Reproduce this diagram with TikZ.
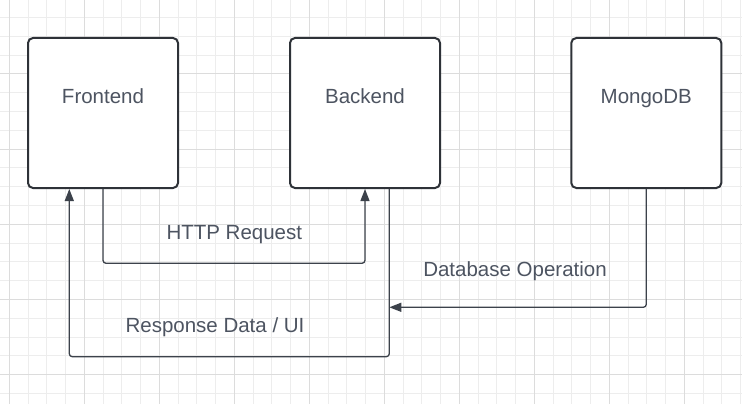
\documentclass[tikz,border=0pt]{standalone}
\usepackage{fontspec}
\setmainfont{Liberation Sans}
\usetikzlibrary{arrows.meta}
\definecolor{gridminor}{HTML}{EDEDED}
\definecolor{gridmajor}{HTML}{DCDCDC}
\definecolor{boxline}{HTML}{2E3238}
\definecolor{lineclr}{HTML}{3C424B}
\definecolor{txt}{HTML}{4D5461}
\tikzset{
  box/.style={draw=boxline, line width=2pt, rounded corners=5pt, fill=white,
    minimum width=150pt, minimum height=150pt, inner sep=0pt},
  conn/.style={draw=lineclr, line width=1.3pt, rounded corners=3pt,
    -{Triangle[length=12pt,width=9pt]}},
  lbl/.style={text=txt, font=\fontsize{20.5}{24}\selectfont, inner sep=0pt, anchor=base},
  gminor/.style={draw=gridminor, line width=1pt},
  gmajor/.style={draw=gridmajor, line width=1pt},
}
\begin{document}
\begin{tikzpicture}[x=1pt,y=-1pt]
\fill[white] (0,0) rectangle (742,404);
\useasboundingbox (0,0) rectangle (742,404);
% grid
\foreach \k in {0,...,39} { \draw[gminor] ({9.3+18.75*\k},0) -- ++(0,404); }
\foreach \k in {0,...,20} { \draw[gminor] (0,{17.5+18.8*\k}) -- ++(742,0); }
\foreach \m in {0,...,9} { \draw[gmajor] ({9.3+75*\m},0) -- ++(0,404); }
\foreach \m in {0,...,4} { \draw[gmajor] (0,{73.9+75.2*\m}) -- ++(742,0); }
% boxes
\node[box] (fe) at (103,113) {};
\node[box] (be) at (365,113) {};
\node[box] (db) at (646.3,113) {};
\node[lbl] (fet) at (103,103.3) {Frontend};
\node[lbl] (bet) at (365,103.3) {Backend};
\node[lbl] (dbt) at (646.3,103.3) {MongoDB};
% connectors
\draw[conn] (fe.south) -- ++(0,74.3) -| (be.south);
\draw[conn] ([xshift=24.3pt]be.south) -- ++(0,167.7) -| ([xshift=-33.7pt]fe.south);
\coordinate (j) at (389.3,307.3);
\draw[conn] (db.south) |- (j);
% labels
\node[lbl] (l1) at (234.3,239.3) {HTTP Request};
\node[lbl] (l2) at (215,332.5) {Response Data / UI};
\node[lbl] (l3) at (515,276.7) {Database Operation};
\end{tikzpicture}
\end{document}
